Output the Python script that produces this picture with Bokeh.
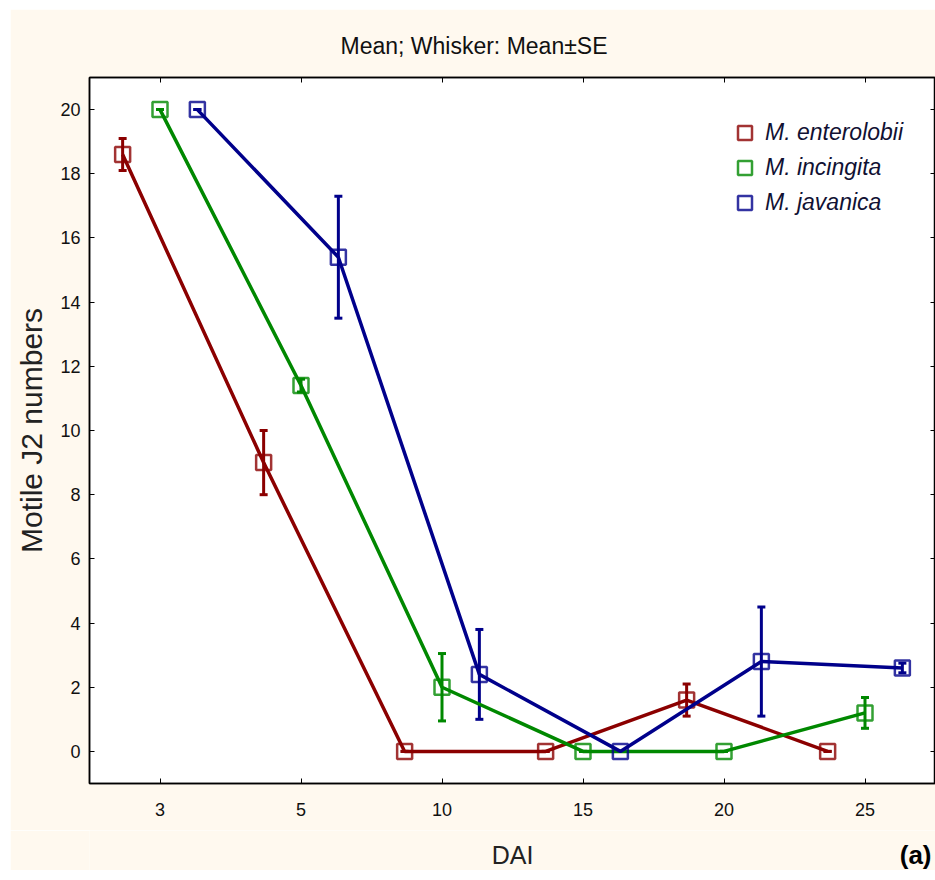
from bokeh.plotting import figure
from bokeh.layouts import column
from bokeh.models import (FactorRange, ColumnDataSource, Whisker, TeeHead, Legend,
                          LegendItem, Label, LinearAxis, CategoricalAxis, FixedTicker, Title)
from bokeh.transform import dodge
from bokeh.embed import file_html
from bokeh.resources import INLINE

# ---- data ----
dai = ["3", "5", "10", "15", "20", "25"]
species = ["M. enterolobii", "M. incingita", "M. javanica"]
colors = ["#8B0000", "#008800", "#00008B"]
ent_mean = [18.6, 9.0, 0.0, 0.0, 1.6, 0.0]
ent_se = [0.5, 1.0, 0.0, 0.0, 0.5, 0.0]
inc_mean = [20.0, 11.4, 2.0, 0.0, 0.0, 1.2]
inc_se = [0.0, 0.2, 1.05, 0.0, 0.0, 0.48]
jav_mean = [20.0, 15.4, 2.4, 0.0, 2.8, 2.6]
jav_se = [0.0, 1.9, 1.4, 0.0, 1.7, 0.15]
y_ticks = [0, 2, 4, 6, 8, 10, 12, 14, 16, 18, 20]
offsets = [-0.265, 0.0, 0.265]

means = [ent_mean, inc_mean, jav_mean]
ses = [ent_se, inc_se, jav_se]

SANS = "Liberation Sans, Arial"
CREAM = "#FFF9EF"

p = figure(x_range=FactorRange(*dai), y_range=(-1, 21), width=925, height=821,
           output_backend="svg", toolbar_location=None,
           background_fill_color="white", border_fill_color=CREAM,
           min_border_left=79, min_border_right=0, min_border_top=68, min_border_bottom=47)
p.margin = (9, 0, 0, 10)
p.grid.visible = False
p.outline_line_color = "black"
p.outline_line_width = 1.5

# title
p.title = Title(text="Mean; Whisker: Mean±SE", align="left", offset=251, standoff=38,
                text_font=SANS, text_font_size="23px", text_font_style="normal",
                text_color="#111111")

# axes
p.yaxis.axis_label = "Motile J2 numbers"
p.yaxis.ticker = FixedTicker(ticks=y_ticks)
for ax in (p.xaxis[0], p.yaxis[0]):
    ax.major_tick_in = 5
    ax.major_tick_out = 0
    ax.minor_tick_line_color = None
    ax.axis_line_color = "black"
    ax.axis_line_width = 1.5
    ax.major_label_text_font = SANS
    ax.major_label_text_font_size = "18px"
    ax.major_label_text_color = "#111111"
    ax.axis_label_text_font = SANS
    ax.axis_label_text_font_style = "normal"
    ax.axis_label_text_color = "#222222"
p.xaxis.major_label_standoff = 19
p.yaxis.major_label_standoff = 9
p.yaxis.axis_label_standoff = 9
p.yaxis.axis_label_text_font_size = "30px"

top_ax = CategoricalAxis(major_tick_in=5, major_tick_out=0, major_label_text_font_size="1px",
                         major_label_text_color=None, major_label_standoff=0,
                         axis_line_width=1.5)
right_ax = LinearAxis(ticker=FixedTicker(ticks=y_ticks), major_tick_in=5, major_tick_out=0,
                      minor_tick_line_color=None, major_label_text_font_size="1px",
                      major_label_text_color=None, major_label_standoff=0,
                      axis_line_width=1.5)
p.add_layout(top_ax, "above")
p.add_layout(right_ax, "right")

items = []
for name, m, s, c, off in zip(species, means, ses, colors, offsets):
    src = ColumnDataSource(dict(dai=dai, mean=m,
                                upper=[a + b for a, b in zip(m, s)],
                                lower=[a - b for a, b in zip(m, s)]))
    xs = dodge("dai", off, range=p.x_range)
    p.line(x=xs, y="mean", source=src, line_color=c, line_width=3.5)
    sc = p.scatter(x=xs, y="mean", source=src, marker="square", size=15,
                   fill_color=None, line_color=c, line_width=2.5, line_alpha=0.8)
    w = Whisker(source=src, base=xs, upper="upper", lower="lower",
                line_color=c, line_width=3,
                upper_head=TeeHead(size=8, line_color=c, line_width=3),
                lower_head=TeeHead(size=8, line_color=c, line_width=3))
    p.add_layout(w)
    items.append(LegendItem(label=name, renderers=[sc]))

legend = Legend(items=items, location=(638, 563), padding=0, margin=0,
                glyph_width=35, glyph_height=35, label_height=35, spacing=0,
                label_standoff=3, background_fill_alpha=0, border_line_color=None,
                label_text_font=SANS, label_text_font_style="italic",
                label_text_font_size="23px", label_text_color="#111133")
p.add_layout(legend, "center")

# bottom strip carrying the x-axis title and the panel tag (frame aligned with p's frame)
p2 = figure(width=925, height=40, x_range=(0, 846), y_range=(0, 40),
            x_axis_type=None, y_axis_type=None, output_backend="svg",
            toolbar_location=None, background_fill_color=CREAM, border_fill_color=CREAM,
            min_border_left=79, min_border_right=0, min_border_top=0, min_border_bottom=0,
            outline_line_color=None)
p2.margin = (0, 0, 0, 10)
p2.grid.visible = False
p2.add_layout(Label(x=423, y=16, text="DAI", text_align="center", text_baseline="middle",
                    text_font=SANS, text_font_size="25px", text_color="#222222"))
p2.add_layout(Label(x=842, y=16, text="(a)", text_align="right", text_baseline="middle",
                    text_font=SANS, text_font_style="bold", text_font_size="26px",
                    text_color="black"))

layout = column(p, p2, spacing=0)
open("out.html", "w").write(file_html(layout, INLINE))
